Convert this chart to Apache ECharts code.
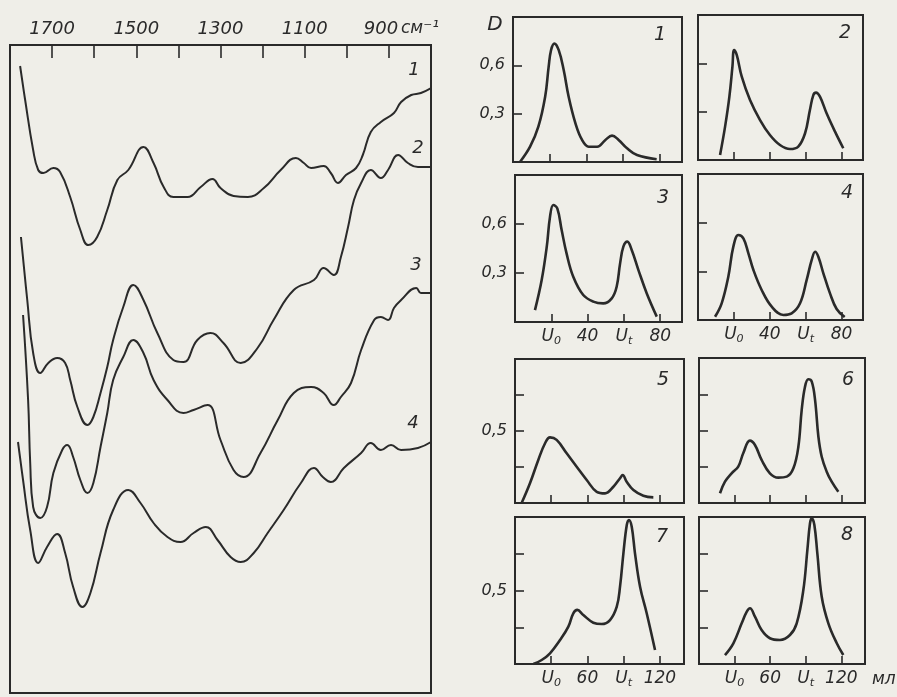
<!DOCTYPE html>
<html><head><meta charset="utf-8">
<script src="https://cdn.jsdelivr.net/npm/echarts@6/dist/echarts.min.js"></script>
<style>html,body{margin:0;padding:0;background:#efeee8}#c{width:897px;height:697px}</style>
</head><body><div id="c"></div>
<script>
// ---------- DATA ----------
const irTickLabels = ['1700','1500','1300','1100','900'];
const irUnit = 'см⁻¹';
// IR spectra: [wavenumber cm-1, relative ordinate]
const ir1 = [[1776,627],[1764,593],[1745,543],[1733,523],[1721,520],[1697,525],[1681,521],[1657,496],[1633,463],[1614,448],[1593,456],[1569,483],[1545,513],[1519,523],[1483,546],[1459,530],[1435,506],[1412,496],[1378,496],[1347,506],[1319,514],[1300,505],[1269,497],[1235,496],[1197,505],[1157,523],[1121,535],[1102,530],[1085,525],[1055,527],[1038,520],[1021,510],[1002,518],[978,525],[962,538],[943,561],[919,571],[888,580],[871,591],[847,598],[824,600],[795,606]];
const ir2 = [[1774,456],[1759,393],[1745,340],[1728,320],[1709,330],[1688,335],[1669,330],[1657,313],[1640,286],[1616,268],[1602,276],[1585,300],[1569,326],[1555,353],[1531,386],[1507,408],[1483,393],[1450,360],[1412,333],[1388,331],[1355,353],[1324,360],[1293,350],[1252,330],[1212,345],[1174,373],[1126,403],[1078,413],[1055,425],[1031,418],[1014,436],[997,466],[983,493],[966,510],[943,523],[919,515],[902,523],[878,538],[855,530],[831,526],[800,526]];
const ir3 = [[1769,378],[1757,293],[1752,230],[1745,186],[1728,175],[1712,186],[1697,220],[1676,243],[1664,248],[1650,236],[1633,213],[1616,200],[1602,210],[1585,246],[1569,280],[1555,313],[1531,336],[1507,353],[1483,340],[1459,313],[1426,293],[1388,280],[1364,283],[1331,288],[1300,253],[1269,223],[1245,216],[1205,240],[1164,273],[1126,300],[1085,306],[1055,300],[1031,288],[1014,296],[990,310],[966,343],[935,373],[919,376],[902,373],[888,385],[871,393],[835,405],[824,400],[800,400]];
const ir4 = [[1781,251],[1769,213],[1752,163],[1733,130],[1712,146],[1688,159],[1669,140],[1650,106],[1628,86],[1609,100],[1585,140],[1555,183],[1519,203],[1490,190],[1459,170],[1426,156],[1395,151],[1364,160],[1335,166],[1307,153],[1276,136],[1252,131],[1221,140],[1188,160],[1150,183],[1109,210],[1078,225],[1057,216],[1038,211],[1007,225],[966,240],[943,250],[919,243],[895,248],[871,243],[831,245],[800,251]];
const irNames = ['1','2','3','4'];

// Elution curves: [volume ml, D]
const p1 = [[3.8,0],[9.3,0.095],[13.8,0.219],[17.5,0.405],[19.4,0.59],[20.7,0.694],[22.5,0.735],[24.9,0.694],[27.6,0.571],[30.3,0.405],[34,0.24],[37.6,0.137],[41.2,0.095],[45.8,0.095],[50.3,0.137],[53.9,0.164],[57.5,0.137],[62.1,0.085],[67.5,0.043],[78.2,0.017]];
const p2 = [[12.3,0.031],[15.1,0.207],[17.5,0.393],[19.2,0.579],[20.1,0.683],[21.6,0.652],[24.4,0.517],[29,0.372],[34.6,0.248],[40.1,0.155],[45.7,0.093],[51.3,0.068],[55.9,0.083],[59.7,0.166],[62.4,0.31],[64.3,0.403],[65.8,0.418],[68,0.393],[71.7,0.29],[76.4,0.176],[81,0.073]];
const p3 = [[11,0.073],[14.7,0.257],[17.5,0.461],[19.3,0.645],[21.1,0.716],[23.3,0.696],[25.7,0.563],[28.4,0.42],[32.1,0.277],[37.6,0.165],[43.1,0.125],[48.6,0.114],[53.3,0.145],[56,0.216],[57.9,0.359],[59.7,0.461],[61.9,0.492],[64.3,0.441],[68,0.318],[72.6,0.175],[78.1,0.033]];
const p4 = [[9.5,0.02],[13.2,0.103],[16.9,0.267],[19.7,0.452],[22.5,0.524],[25.3,0.503],[28.1,0.411],[30.9,0.308],[35.5,0.185],[41.1,0.082],[47.6,0.031],[52.2,0.041],[56.9,0.103],[60.6,0.247],[63.4,0.37],[65.3,0.421],[67.1,0.39],[69.9,0.288],[73.6,0.164],[77.3,0.068],[81.8,0.018]];
const p5 = [[5.5,0],[12.4,0.137],[19.3,0.299],[24.9,0.415],[29,0.456],[34.5,0.438],[42.8,0.345],[51.1,0.252],[59.4,0.16],[67.7,0.078],[74.6,0.067],[81.5,0.113],[87,0.172],[89.2,0.194],[92.5,0.148],[98.1,0.09],[106.3,0.05],[114.6,0.039]];
const p6 = [[17.7,0.067],[21.9,0.147],[27.5,0.205],[33.1,0.251],[37.3,0.343],[42.9,0.43],[47.2,0.4],[52.8,0.297],[59.8,0.205],[66.9,0.175],[74,0.182],[79.6,0.239],[83.8,0.388],[86.6,0.641],[89.4,0.802],[92.2,0.853],[95.1,0.837],[97.9,0.71],[100.7,0.457],[103.5,0.319],[107.7,0.216],[111.9,0.147],[117.5,0.078]];
const p7 = [[15.2,0],[22.1,0.027],[29,0.073],[37.3,0.163],[44.2,0.254],[48.3,0.345],[51.6,0.368],[56.6,0.333],[64.9,0.281],[71.8,0.272],[78.7,0.299],[84.3,0.39],[87,0.526],[89.8,0.753],[92.6,0.946],[94.4,0.98],[96.7,0.934],[99.4,0.753],[103.6,0.526],[109.1,0.345],[116,0.095]];
const p8 = [[21.9,0.061],[29,0.141],[36,0.277],[40.3,0.356],[43,0.379],[47.2,0.322],[52.8,0.231],[59.8,0.175],[68.3,0.163],[76.7,0.197],[82.4,0.277],[88,0.503],[91.4,0.776],[93.6,0.957],[95.1,0.991],[97.3,0.946],[99.8,0.753],[103.5,0.458],[109.1,0.277],[116.2,0.141],[121.7,0.061]];
const panelNames = ['1','2','3','4','5','6','7','8'];
const xTicksTop = [20,40,60,80];
const xTickLabelsTop = ['U0','40','Ut','80'];
const xTicksBottom = [30,60,90,120];
const xTickLabelsBottom = ['U0','60','Ut','120'];
const yTicksTop = [0.3,0.6];
const yTickLabelsTop = ['0,3','0,6'];
const yTicksBottom = [0.5];
const yTickLabelsBottom = ['0,5'];
const yAxisName = 'D';
const volUnit = 'мл';

// ---------- CHART ----------
const FONT = "'DejaVu Sans', sans-serif";
const INK = '#2a2a2a';
const chart = echarts.init(document.getElementById('c'), null, {renderer:'canvas'});

const grids = [], xAxes = [], yAxes = [], series = [], graphics = [];

// Left IR panel
grids.push({left:10, top:45, width:421, height:648, show:true, borderColor:INK, borderWidth:2, backgroundColor:'transparent'});
xAxes.push({gridIndex:0, type:'value', position:'top', inverse:true, min:800, max:1800, interval:100,
  axisLine:{show:false, onZero:false}, splitLine:{show:false},
  axisTick:{show:true, inside:true, length:13, lineStyle:{color:INK, width:1.6}},
  axisLabel:{margin:7, color:INK, fontFamily:FONT, fontStyle:'italic', fontSize:18,
    formatter:function(v){ const s=String(Math.round(v)); if(s==='900') return '{n|900}'; return irTickLabels.indexOf(s)>=0?s:''; },
    rich:{n:{fontFamily:FONT, fontStyle:'italic', fontSize:18, color:INK, padding:[0,16,0,0]}}}
});
yAxes.push({gridIndex:0, type:'value', min:0, max:648, show:false});
[ir1,ir2,ir3,ir4].forEach(function(d,i){
  series.push({type:'line', name:'IR '+irNames[i], xAxisIndex:0, yAxisIndex:0, data:d, smooth:0.45, showSymbol:false,
    lineStyle:{color:INK, width:2}, silent:true});
});
const irLabelPos = [[414,70],[418,148],[416,265],[413,423]];
irNames.forEach(function(n,i){
  graphics.push({type:'text', x:irLabelPos[i][0], y:irLabelPos[i][1], style:{text:n, fill:INK, font:"italic 18px "+FONT, textAlign:'center', textVerticalAlign:'middle'}});
});
graphics.push({type:'text', x:401, y:29, style:{text:irUnit, fill:INK, font:"italic 17px "+FONT, textAlign:'left', textVerticalAlign:'middle'}});

// Small panels
const boxes = [[513,17,169,145],[698,15,165,145],[515,175,167,147],[698,174,165,146],[515,359,169,144],[699,358,166,145],[515,517,169,147],[699,517,166,147]];
const numPos = [[660,35],[845,33],[663,198],[847,193],[663,380],[848,380],[662,537],[847,535]];
const curves = [p1,p2,p3,p4,p5,p6,p7,p8];
const richSub = {
  u:{fontFamily:FONT, fontStyle:'italic', fontSize:17, color:INK, lineHeight:20},
  s:{fontFamily:FONT, fontStyle:'italic', fontSize:11, color:INK, lineHeight:10, verticalAlign:'bottom'}
};
function fmtX(ticks, labels){
  return function(v){
    for(let k=0;k<ticks.length;k++){ if(Math.abs(v-ticks[k])<1e-6){ const l=labels[k];
      if(l==='U0') return '{u|U}{s|0}'; if(l==='Ut') return '{u|U}{s|t}'; return '{u|'+l+'}'; } }
    return '';
  };
}
function fmtY(ticks, labels){
  return function(v){ for(let k=0;k<ticks.length;k++){ if(Math.abs(v-ticks[k])<1e-6) return labels[k]; } return ''; };
}
for(let i=0;i<8;i++){
  const g = i+1, b = boxes[i];
  const topRows = i<4;
  const showX = (i===2||i===3||i===6||i===7);
  const showY = (i%2===0);
  grids.push({left:b[0], top:b[1], width:b[2], height:b[3], show:true, borderColor:INK, borderWidth:2, backgroundColor:'transparent'});
  xAxes.push({gridIndex:g, type:'value', min:0, max:topRows?92:140, interval:topRows?20:30,
    axisLine:{show:false, onZero:false}, splitLine:{show:false},
    axisTick:{show:true, inside:true, length:8, lineStyle:{color:INK, width:1.6}},
    axisLabel:{show:showX, margin:5, color:INK, fontFamily:FONT, fontStyle:'italic', fontSize:17,
      formatter: topRows?fmtX(xTicksTop,xTickLabelsTop):fmtX(xTicksBottom,xTickLabelsBottom), rich:richSub}
  });
  yAxes.push({gridIndex:g, type:'value', min:0, max:topRows?0.9:1.0, interval:topRows?0.3:0.25,
    axisLine:{show:false, onZero:false}, splitLine:{show:false},
    axisTick:{show:true, inside:true, length:9, lineStyle:{color:INK, width:1.6}},
    axisLabel:{show:showY, margin:8, color:INK, fontFamily:FONT, fontStyle:'italic', fontSize:16,
      formatter: topRows?fmtY(yTicksTop,yTickLabelsTop):fmtY(yTicksBottom,yTickLabelsBottom)}
  });
  series.push({type:'line', name:'panel '+panelNames[i], xAxisIndex:g, yAxisIndex:g, data:curves[i], smooth:0.4, showSymbol:false,
    lineStyle:{color:INK, width:2.6}, silent:true});
  graphics.push({type:'text', x:numPos[i][0], y:numPos[i][1], style:{text:panelNames[i], fill:INK, font:"italic 19px "+FONT, textAlign:'center', textVerticalAlign:'middle'}});
}
graphics.push({type:'text', x:495, y:25, style:{text:yAxisName, fill:INK, font:"italic 20px "+FONT, textAlign:'center', textVerticalAlign:'middle'}});
graphics.push({type:'text', x:872, y:680, style:{text:volUnit, fill:INK, font:"italic 17px "+FONT, textAlign:'left', textVerticalAlign:'middle'}});

chart.setOption({
  backgroundColor:'#efeee8',
  animation:false,
  textStyle:{fontFamily:FONT},
  grid:grids, xAxis:xAxes, yAxis:yAxes, series:series, graphic:graphics
});
</script></body></html>
